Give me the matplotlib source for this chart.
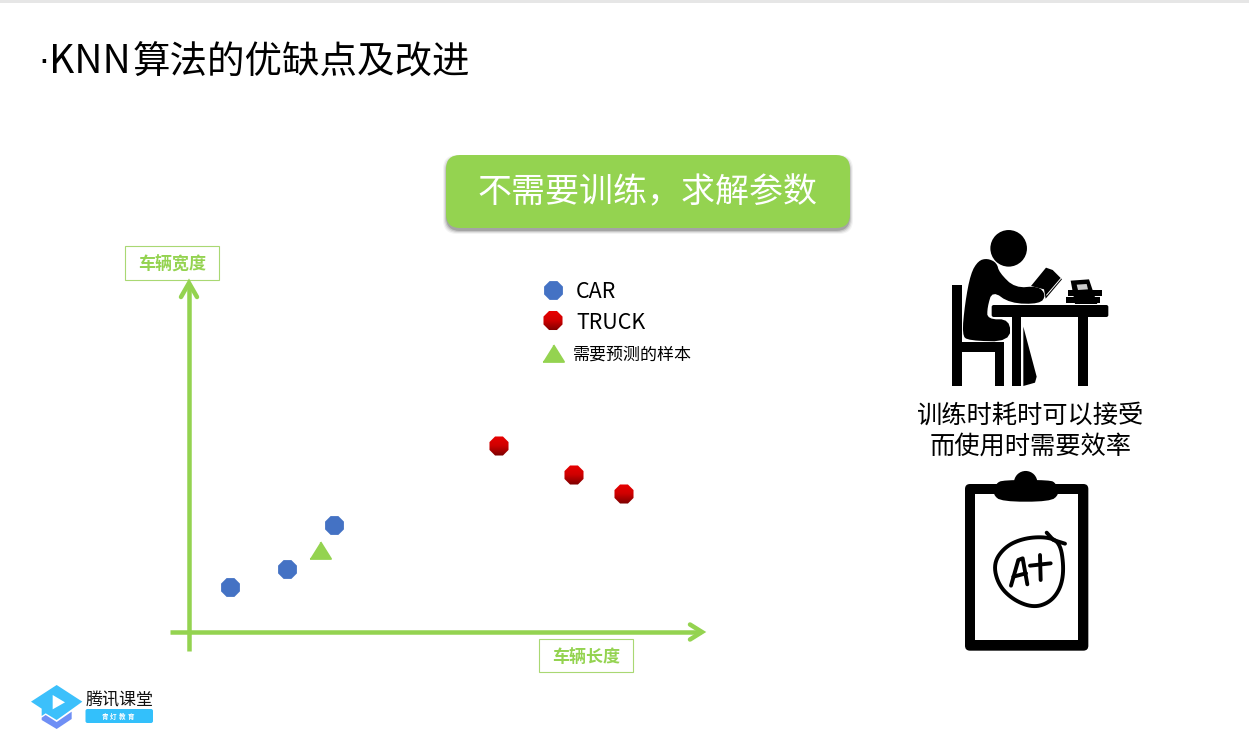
import numpy as np
import matplotlib
matplotlib.use("Agg")
import matplotlib.pyplot as plt
from matplotlib.colors import LinearSegmentedColormap
from matplotlib.patches import Circle, FancyBboxPatch, Polygon, Rectangle, RegularPolygon

plt.rcParams['font.family'] = ['Noto Sans CJK SC', 'DejaVu Sans']

W, H = 1249, 742
GREEN = "#94d350"
BLUE = "#4472c4"
PX = 0.72  # css px -> pt at dpi 100
TRI = [(-1, -0.8), (1, -0.8), (0, 0.8)]  # flatter than the stock "^"
RED_MAP = LinearSegmentedColormap.from_list("truck", ["#ea0000", "#d00000", "#7c0000"])

# points (axis units = px from the origin of the arrows)
car_x = [42, 99, 146]
car_y = [45, 63, 107]
truck_x = [311, 386, 436]
truck_y = [186, 157, 138]
sample_x = [132]
sample_y = [82]

title_dot = "·"
title_latin = "KNN"
title_cjk = "算法的优缺点及改进"
banner = "不需要训练，求解参数"
ylabel = "车辆宽度"
xlabel = "车辆长度"
legend_labels = ["CAR", "TRUCK", "需要预测的样本"]
side_lines = ["训练时耗时可以接受", "而使用时需要效率"]
logo_name = "腾讯课堂"
logo_sub = "青灯教育"


def zoomed(pts, ox, oy):
    # coordinates were measured on 3x crops
    return [(ox + x / 3, oy + y / 3) for x, y in pts]


def smooth(pts, closed=False, n=3):
    pts = np.asarray(pts, float)
    for _ in range(n):
        a = pts if not closed else np.vstack([pts, pts[:1]])
        q = 0.75 * a[:-1] + 0.25 * a[1:]
        r = 0.25 * a[:-1] + 0.75 * a[1:]
        new = np.empty((len(q) * 2, 2))
        new[0::2] = q
        new[1::2] = r
        pts = new
    return pts


def box(ax, x0, y0, x1, y1, r, **kw):
    p = FancyBboxPatch((x0 + r, y0 + r), x1 - x0 - 2 * r, y1 - y0 - 2 * r,
                       boxstyle=f"round,pad={r},rounding_size={r}", **kw)
    ax.add_patch(p)
    return p


def poly(ax, pts, color="black", **kw):
    ax.add_patch(Polygon(pts, closed=True, facecolor=color, edgecolor="none", **kw))


def red_dot(ax, x, y, top, bottom, radius=10.3):
    # octagon with the top-to-bottom shading of the truck markers
    grad = np.linspace(0, 1, 32)[:, None]
    im = ax.imshow(grad, cmap=RED_MAP, extent=(x - radius, x + radius, bottom, top),
                   aspect="auto", zorder=3)
    im.set_clip_path(RegularPolygon((x, y), 8, radius=radius, orientation=np.pi / 8,
                                    transform=ax.transData))


def draw_reader(ax):
    ox, oy = 900, 220
    ax.add_patch(Circle((ox + 326 / 3, oy + 85 / 3), 18.3, color="black", lw=0))
    torso = [(262, 115), (290, 128), (298, 158), (345, 204), (415, 198),
             (438, 225), (420, 252), (330, 250), (277, 212), (262, 262), (262, 298),
             (330, 298), (330, 365), (205, 362), (186, 345), (195, 250), (212, 160), (235, 122)]
    poly(ax, smooth(zoomed(torso, ox, oy), closed=True, n=2))
    poly(ax, zoomed([(370, 320), (410, 470), (405, 488), (370, 498)], ox, oy))
    for x0, y0, x1, y1 in [(157, 195, 187, 498), (187, 365, 312, 395), (285, 395, 312, 498),
                           (335, 290, 362, 498), (535, 290, 563, 498),
                           (505, 210, 607, 228), (498, 230, 600, 250)]:
        (a, b), (c, d) = zoomed([(x0, y0), (x1, y1)], ox, oy)
        ax.add_patch(Rectangle((a, b), c - a, d - b, color="black", lw=0))
    (a, b), (c, d) = zoomed([(275, 255), (625, 291)], ox, oy)
    box(ax, a, b, c, d, 2, color="black", lw=0)
    poly(ax, zoomed([(393, 198), (438, 143), (458, 150), (486, 178), (437, 236), (432, 208)], ox, oy))
    ax.plot(*zip(*zoomed([(440, 225), (482, 176)], ox, oy)), color="white", lw=0.7)
    poly(ax, zoomed([(512, 182), (567, 178), (592, 252), (525, 252)], ox, oy), zorder=3)
    poly(ax, zoomed([(530, 194), (560, 192), (564, 208), (534, 210)], ox, oy), color="#cccccc", zorder=4)


def draw_clipboard(ax):
    ox, oy = 950, 465
    (a, b), (c, d) = zoomed([(45, 57), (415, 557)], ox, oy)
    box(ax, a, b, c, d, 5, color="black", lw=0)
    (a, b), (c, d) = zoomed([(75, 88), (385, 525)], ox, oy)
    ax.add_patch(Rectangle((a, b), c - a, d - b, color="white", lw=0))
    ax.add_patch(Circle((ox + 227 / 3, oy + 53 / 3), 11.7, color="black", lw=0))
    clip = [(128, 88), (138, 55), (160, 45), (300, 45), (318, 55), (328, 88), (300, 110), (155, 110)]
    poly(ax, smooth(zoomed(clip, ox, oy), closed=True, n=2))
    ring = [(330, 230), (285, 215), (220, 220), (165, 245), (130, 295), (145, 360),
            (190, 405), (250, 428), (300, 412), (332, 370), (342, 310)]
    xy = smooth(zoomed(ring, ox, oy), closed=True)
    ax.add_patch(Polygon(xy, closed=True, fill=False, edgecolor="black", lw=2.8))
    strokes = [[(290, 203), (310, 225), (345, 236)],
               [(183, 362), (205, 285), (218, 280), (232, 358)],
               [(190, 335), (228, 325)],
               [(240, 302), (302, 295)],
               [(270, 270), (272, 345)]]
    for s in strokes:
        x, y = zip(*zoomed(s, ox, oy))
        ax.plot(x, y, color="black", lw=2.8, solid_capstyle="round", solid_joinstyle="round")


def draw_logo(ax):
    ox, oy = 25, 680
    lower = [(50, 113), (62, 105), (95, 126), (140, 95), (140, 117), (95, 147), (50, 120)]
    poly(ax, zoomed(lower, ox, oy), color="#6f8ff5")
    cap = [(95, 15), (172, 65), (140, 88), (95, 120), (62, 100), (50, 108), (50, 86), (18, 65)]
    poly(ax, zoomed(cap, ox, oy), color="#3cc0fb")
    poly(ax, zoomed([(83, 45), (120, 67), (83, 88)], ox, oy), color="white")
    ax.text(119.5, 700, logo_name, fontsize=17 * PX, ha="center", va="center",
            color="#111111", weight="medium")
    box(ax, 85.5, 709, 153, 723, 2, color="#33c0fb", lw=0)
    for ch, x in zip(logo_sub, [105, 113.5, 122, 130.5]):
        ax.text(x, 716.5, ch, fontsize=6.5 * PX, ha="center", va="center", color="white", weight="bold")


fig = plt.figure(figsize=(W / 100, H / 100), dpi=100, facecolor="white")

# page layer, in pixel coordinates
page = fig.add_axes([0, 0, 1, 1])
page.set_xlim(0, W)
page.set_ylim(H, 0)
page.axis("off")

page.add_patch(Rectangle((0, 0), W, 2.5, color="#e6e6e6", lw=0))
page.text(43.5, 73, title_dot, fontsize=34 * PX, ha="center", va="baseline", family="DejaVu Sans", color="black")
page.text(49, 73, title_latin, fontsize=39 * PX, ha="left", va="baseline", color="black")
page.text(133, 74, title_cjk, fontsize=37.5 * PX, ha="left", va="baseline", color="black")

# banner with its soft shadow
for grow, alpha in [(3, 0.06), (2, 0.10), (1, 0.16), (0, 0.25)]:
    box(page, 446 - grow, 158 - grow, 850 + grow, 231 + grow, 14,
        color="#404040", alpha=alpha, lw=0)
box(page, 446, 155, 850, 228, 14, color=GREEN, lw=0)
page.text(648, 193, banner, fontsize=34 * PX, color="white", ha="center", va="center")

# axis arrows
page.plot([189, 189], [651, 284], color=GREEN, lw=4.5 * PX, solid_capstyle="butt")
page.plot([170, 701], [632, 632], color=GREEN, lw=4.5 * PX, solid_capstyle="butt")
page.plot([181, 189, 197], [297, 283, 297], color=GREEN, lw=4.5 * PX, solid_joinstyle="miter", solid_capstyle="round")
page.plot([690, 702, 690], [624.5, 632, 639.5], color=GREEN, lw=4.5 * PX, solid_joinstyle="miter", solid_capstyle="round")

for (x0, y0, x1, y1), label in [((125.5, 245.5, 219.5, 279.5), ylabel),
                                ((539.5, 638.5, 633.5, 671.5), xlabel)]:
    page.add_patch(Rectangle((x0, y0), x1 - x0, y1 - y0, facecolor="white", edgecolor="#a9d873", lw=0.8))
    page.text((x0 + x1) / 2, (y0 + y1) / 2 + 2, label, fontsize=17 * PX, color=GREEN,
              weight="bold", ha="center", va="center")

# legend
page.scatter([553], [289.5], marker="8", s=215, color=BLUE, linewidths=0)
red_dot(page, 553, 320.5, 310.2, 330.8)
page.scatter([553.5], [352.5], marker=TRI, s=229, color=GREEN, edgecolors=GREEN, linewidths=1.4)
page.text(576, 292, legend_labels[0], fontsize=21.5 * PX, va="center", color="black")
page.text(576, 323, legend_labels[1], fontsize=21.5 * PX, va="center", color="black")
page.text(573, 355, legend_labels[2], fontsize=17 * PX, va="center", color="black")

for y, line in zip([416, 447], side_lines):
    page.text(1031, y, line, fontsize=25.3 * PX, ha="center", va="center", color="black")

draw_reader(page)
draw_clipboard(page)
draw_logo(page)

# scatter layer, one axis unit = one pixel
ax = fig.add_axes([188 / W, (H - 632) / H, 512 / W, 347 / H])
ax.set_xlim(0, 512)
ax.set_ylim(0, 347)
ax.axis("off")
ax.patch.set_alpha(0)

ax.scatter(car_x, car_y, marker="8", s=215, color=BLUE, linewidths=0, zorder=3)
ax.scatter(sample_x, sample_y, marker=TRI, s=229, color=GREEN, edgecolors=GREEN, linewidths=1.4, zorder=3)
for x, y in zip(truck_x, truck_y):
    red_dot(ax, x, y, y + 10.3, y - 10.3)

fig.savefig("out.png", dpi=100, facecolor="white")
